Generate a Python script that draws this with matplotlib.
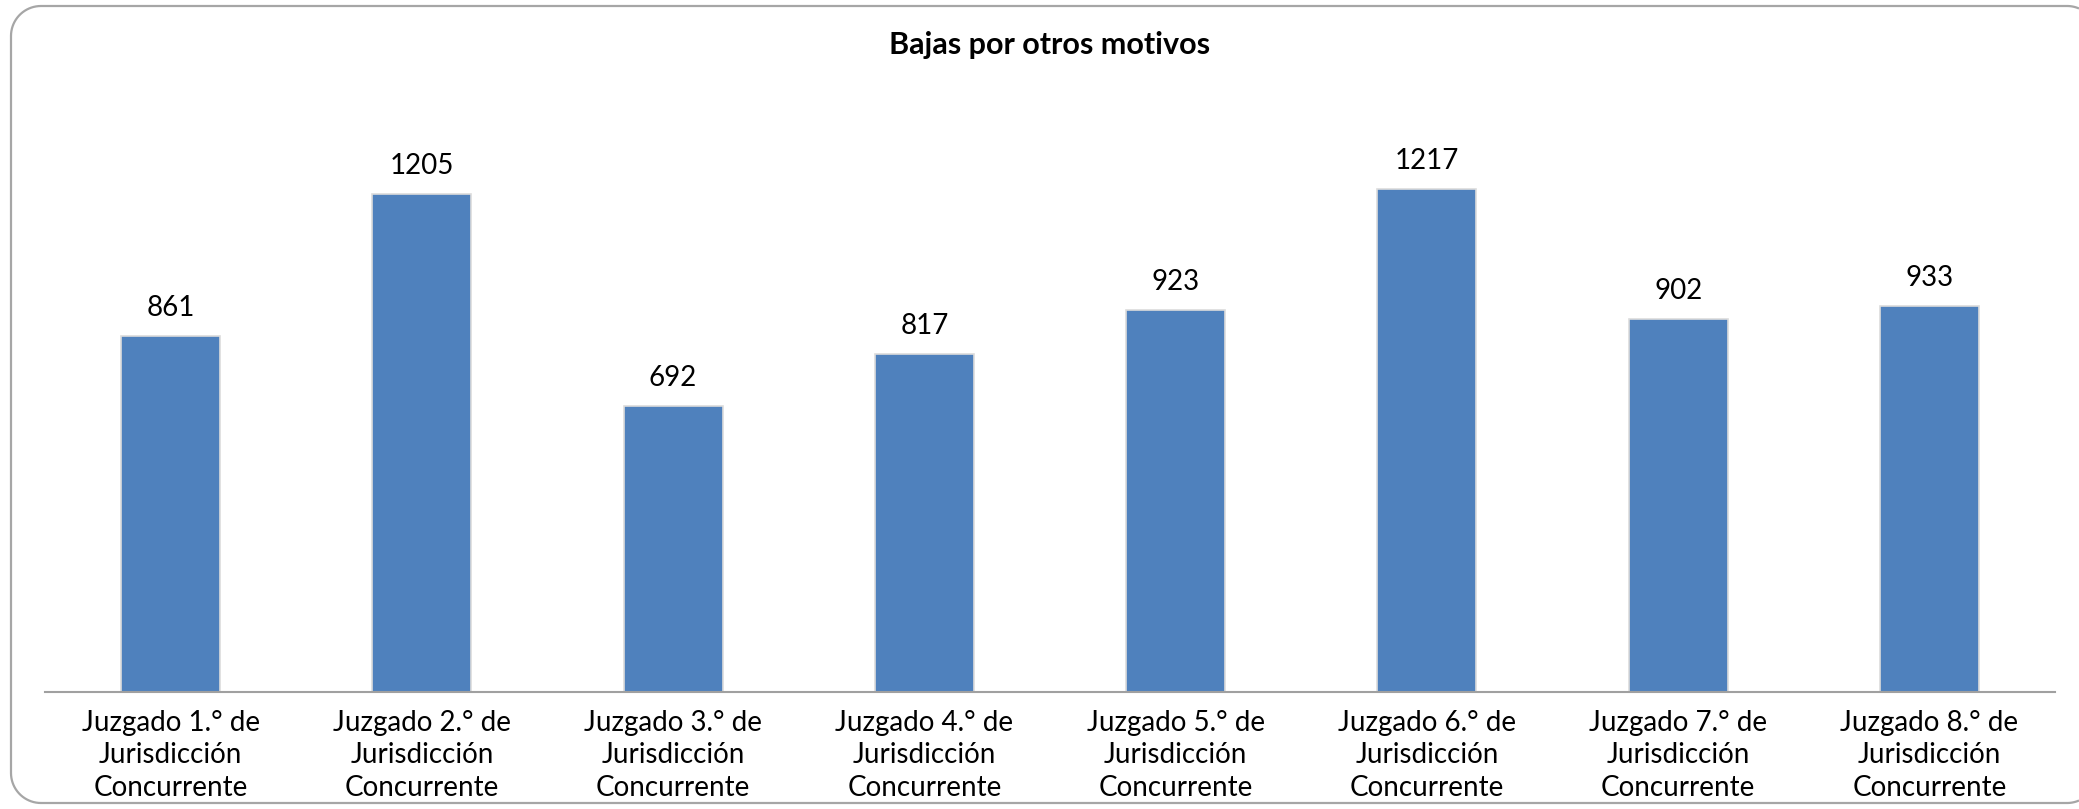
import matplotlib
matplotlib.use('agg')
import matplotlib.pyplot as plt
import numpy as np

categories = ['Juzgado 1.° de\nJurisdicción\nConcurrente',
              'Juzgado 2.° de\nJurisdicción\nConcurrente',
              'Juzgado 3.° de\nJurisdicción\nConcurrente',
              'Juzgado 4.° de\nJurisdicción\nConcurrente',
              'Juzgado 5.° de\nJurisdicción\nConcurrente',
              'Juzgado 6.° de\nJurisdicción\nConcurrente',
              'Juzgado 7.° de\nJurisdicción\nConcurrente',
              'Juzgado 8.° de\nJurisdicción\nConcurrente']
values = [861, 1205, 692, 817, 923, 1217, 902, 933]
title = 'Bajas por otros motivos'

plt.rcParams['font.family'] = ['Lato', 'DejaVu Sans']

W, H = 2079, 809
fig = plt.figure(figsize=(W / 100, H / 100), dpi=100)

# background axes in pixel units (y down) for the rounded chart frame.
# The frame's right side lies past the canvas, so only the part inside is drawn.
bg = fig.add_axes([0, 0, 1, 1])
bg.set_xlim(0, W)
bg.set_ylim(H, 0)
bg.axis('off')


def corner(cx, cy, r, a0, a1):
    a = np.radians(np.linspace(a0, a1, 20))
    return list(cx + r * np.cos(a)), list(cy + r * np.sin(a))


r, left, top, bottom, right = 30, 11, 6, 803, 2097
cut = np.degrees(np.arccos((W - (right - r)) / r))
xs, ys = [], []
for seg in [corner(right - r, top + r, r, -cut, -90),
            corner(left + r, top + r, r, -90, -180),
            corner(left + r, bottom - r, r, 180, 90),
            corner(right - r, bottom - r, r, 90, cut)]:
    xs += seg[0]
    ys += seg[1]
bg.plot(xs, ys, color='#a6a6a6', linewidth=1.6, solid_capstyle='butt')

ax = fig.add_axes([45 / W, 1 - 692 / H, (2055 - 45) / W, (692 - 113) / H])
ax.set_facecolor('none')

x = range(len(values))
bars = ax.bar(x, values, width=0.394, color='#4F81BD',
              edgecolor='#dcdcdc', linewidth=1.2, zorder=2)

for xi, v in zip(x, values):
    ax.annotate(str(v), (xi, v), xytext=(0, 14.5), textcoords='offset points',
                ha='center', va='baseline', fontsize=20, color='black')

ax.set_xlim(-0.5, len(values) - 0.5)
ax.set_ylim(0, 1400)
ax.set_xticks(list(x))
ax.set_xticklabels(categories, fontsize=20, linespacing=1.3)
ax.tick_params(axis='x', length=0, pad=13)
ax.set_yticks([])

for side in ['top', 'right', 'left']:
    ax.spines[side].set_visible(False)
ax.spines['bottom'].set_color('#a0a0a0')
ax.spines['bottom'].set_linewidth(1.5)

fig.text(1050 / W, 1 - 45 / H, title, ha='center', va='center',
         fontsize=22, fontweight='bold')

plt.savefig('out.png', dpi=100)
